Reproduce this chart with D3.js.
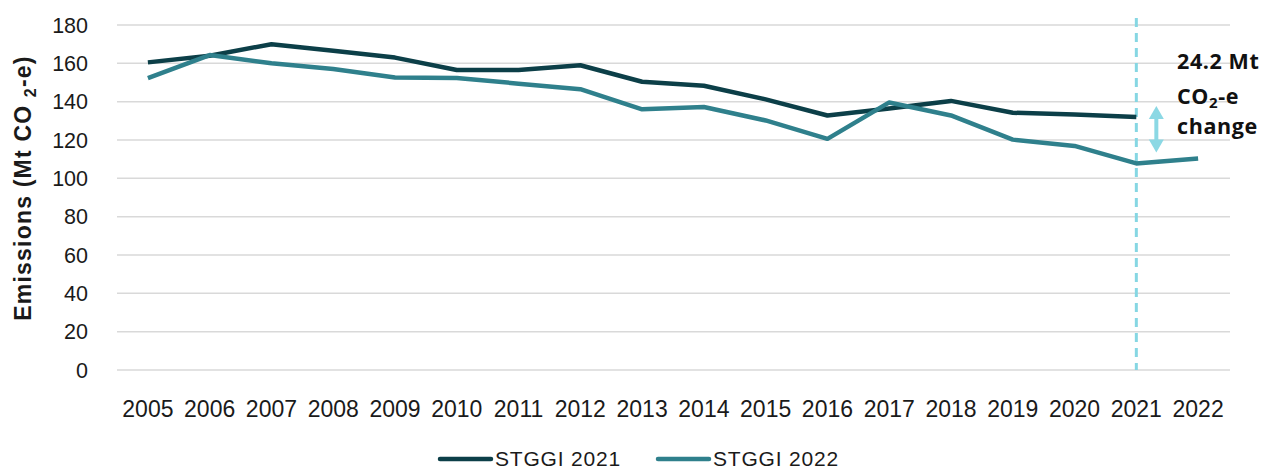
<!DOCTYPE html>
<html>
<head>
<meta charset="utf-8">
<script src="https://cdn.jsdelivr.net/npm/d3@7"></script>
<style>
  body { margin: 0; background: #fff; }
  svg { display: block; }
</style>
</head>
<body>
<div id="root"></div>
<script>
const years = [2005, 2006, 2007, 2008, 2009, 2010, 2011, 2012, 2013, 2014,
               2015, 2016, 2017, 2018, 2019, 2020, 2021, 2022];
const stggi2021 = [160.5, 164, 170, 166.6, 163, 156.5, 156.5, 159, 150.4, 148.3,
                   141.2, 132.8, 136.4, 140.4, 134.2, 133.3, 132, null];
const stggi2022 = [152.3, 164.3, 160, 157, 152.6, 152.4, 149.4, 146.5, 136, 137.2,
                   130.2, 120.6, 139.6, 132.8, 120.2, 116.9, 107.8, 110.4];
const yTicks = [0, 20, 40, 60, 80, 100, 120, 140, 160, 180];
const seriesNames = ['STGGI 2021', 'STGGI 2022'];
const colors = ['#0c3f48', '#2f808c'];
const markYear = 2021;

const w = 1265;
const h = 469;

const svg = d3.select('#root')
  .append('svg')
  .attr('width', w)
  .attr('height', h);

const x = d3.scalePoint()
  .domain(years)
  .range([117, 1229])
  .padding(0.5);

const y = d3.scaleLinear()
  .domain([0, 180])
  .range([370, 25]);

// gridlines
svg.append('g')
  .selectAll('line')
  .data(yTicks)
  .enter()
  .append('line')
  .attr('x1', 117)
  .attr('x2', 1230)
  .attr('y1', d => y(d))
  .attr('y2', d => y(d))
  .attr('stroke', '#d9d9d9')
  .attr('stroke-width', 1.5);

// y tick labels
svg.append('g')
  .selectAll('text')
  .data(yTicks)
  .enter()
  .append('text')
  .text(d => d)
  .attr('x', 88)
  .attr('y', d => y(d) + 7.5)
  .attr('text-anchor', 'end')
  .attr('font-family', 'Liberation Sans, Arial, sans-serif')
  .attr('font-size', '21.5px')
  .attr('fill', '#1a1a1a');

// x tick labels
svg.append('g')
  .selectAll('text')
  .data(years)
  .enter()
  .append('text')
  .text(d => d)
  .attr('x', d => x(d))
  .attr('y', 417)
  .attr('text-anchor', 'middle')
  .attr('font-family', 'Liberation Sans, Arial, sans-serif')
  .attr('font-size', '23px')
  .attr('fill', '#1a1a1a');

// y axis title
const yTitle = svg.append('text')
  .attr('transform', 'translate(31,188) rotate(-90)')
  .attr('text-anchor', 'middle')
  .attr('font-family', 'Liberation Sans, Arial, sans-serif')
  .attr('font-size', '23px')
  .attr('font-weight', 'bold')
  .attr('letter-spacing', '1.2px')
  .attr('fill', '#1a1a1a');
yTitle.append('tspan').text('Emissions (Mt CO ');
yTitle.append('tspan').text('2').attr('font-size', '16px').attr('dy', 5);
yTitle.append('tspan').text('-e)').attr('dy', -5);

// dashed marker at 2021
svg.append('line')
  .attr('x1', x(markYear))
  .attr('x2', x(markYear))
  .attr('y1', 18)
  .attr('y2', 370)
  .attr('stroke', '#86d7e3')
  .attr('stroke-width', 3)
  .attr('stroke-dasharray', '9,6');

// lines
const line = d3.line()
  .defined(d => d.v != null)
  .x(d => x(d.year))
  .y(d => y(d.v));

[stggi2021, stggi2022].forEach((vals, i) => {
  svg.append('path')
    .datum(years.map((year, j) => ({ year: year, v: vals[j] })))
    .attr('d', line)
    .attr('fill', 'none')
    .attr('stroke', colors[i])
    .attr('stroke-width', 4.5)
    .attr('stroke-linejoin', 'round');
});

// change arrow (sits between the two 2021 values, nudged up like the original)
const i21 = years.indexOf(markYear);
const ax = x(markYear) + 20;
const yTop = y(stggi2021[i21]) - 11;
const yBot = y(stggi2022[i21]) - 11;
const arrowColor = '#8bd8e4';
svg.append('line')
  .attr('x1', ax).attr('x2', ax)
  .attr('y1', yTop + 10).attr('y2', yBot - 10)
  .attr('stroke', arrowColor)
  .attr('stroke-width', 4);
svg.append('path')
  .attr('d', `M${ax},${yTop} L${ax - 7.5},${yTop + 13} L${ax + 7.5},${yTop + 13} Z`)
  .attr('fill', arrowColor);
svg.append('path')
  .attr('d', `M${ax},${yBot} L${ax - 7.5},${yBot - 13} L${ax + 7.5},${yBot - 13} Z`)
  .attr('fill', arrowColor);

// annotation
const note = svg.append('text')
  .attr('font-family', '"Open Sans", sans-serif')
  .attr('font-size', '21.5px')
  .attr('font-weight', 700)
  .attr('letter-spacing', '0.6px')
  .attr('fill', '#111');
note.append('tspan').attr('x', 1177).attr('y', 69).text('24.2 Mt');
note.append('tspan').attr('x', 1177).attr('y', 104).text('CO');
note.append('tspan').text('2').attr('font-size', '15px').attr('dy', 4);
note.append('tspan').text('-e').attr('dy', -4);
note.append('tspan').attr('x', 1177).attr('y', 134).text('change');

// legend
const legend = svg.append('g');
const legendX = [440, 658];
seriesNames.forEach((name, i) => {
  legend.append('line')
    .attr('x1', legendX[i])
    .attr('x2', legendX[i] + 51)
    .attr('y1', 459)
    .attr('y2', 459)
    .attr('stroke', colors[i])
    .attr('stroke-width', 4.5)
    .attr('stroke-linecap', 'round');
  legend.append('text')
    .text(name)
    .attr('x', legendX[i] + 55)
    .attr('y', 466)
    .attr('font-family', 'Liberation Sans, Arial, sans-serif')
    .attr('font-size', '21px')
    .attr('letter-spacing', '0.8px')
    .attr('fill', '#1a1a1a');
});
</script>
</body>
</html>
